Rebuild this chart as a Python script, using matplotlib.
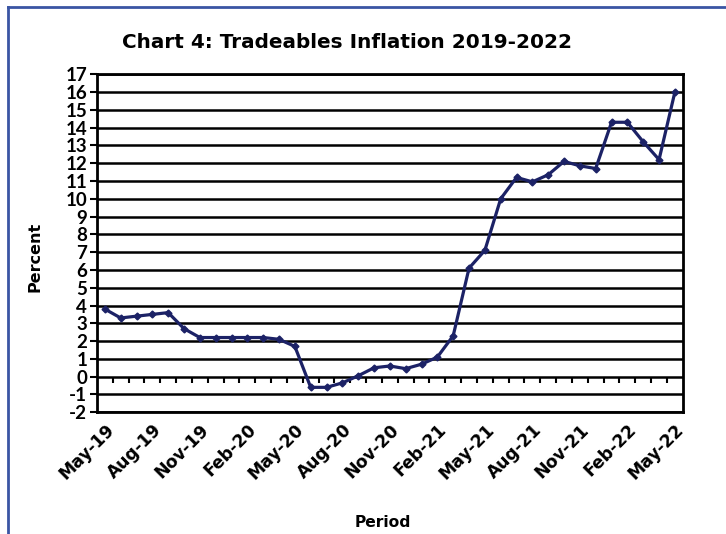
import numpy as np
import matplotlib
matplotlib.use("Agg")
import matplotlib.pyplot as plt
from matplotlib.lines import Line2D

plt.rcParams["font.family"] = ["DejaVu Sans"]
plt.rcParams["font.weight"] = "bold"

# monthly tradeables inflation, May-19 .. May-22 (percent)
months = ["May-19", "Jun-19", "Jul-19", "Aug-19", "Sep-19", "Oct-19", "Nov-19",
          "Dec-19", "Jan-20", "Feb-20", "Mar-20", "Apr-20", "May-20", "Jun-20",
          "Jul-20", "Aug-20", "Sep-20", "Oct-20", "Nov-20", "Dec-20", "Jan-21",
          "Feb-21", "Mar-21", "Apr-21", "May-21", "Jun-21", "Jul-21", "Aug-21",
          "Sep-21", "Oct-21", "Nov-21", "Dec-21", "Jan-22", "Feb-22", "Mar-22",
          "Apr-22", "May-22"]
inflation = [3.8, 3.3, 3.4, 3.5, 3.6, 2.7, 2.2, 2.2, 2.2, 2.2, 2.2, 2.1, 1.7,
             -0.6, -0.6, -0.35, 0.05, 0.5, 0.6, 0.45, 0.7, 1.1, 2.3, 6.1, 7.1,
             10.0, 11.2, 10.95, 11.35, 12.1, 11.85, 11.7, 14.3, 14.3, 13.2, 12.2,
             16.0]
y_ticks = list(range(-2, 18))

NAVY = "#1c2266"

fig = plt.figure(figsize=(7.26, 5.34), dpi=100)
ax = fig.add_axes([0.1335, 0.228, 0.807, 0.633])

x = np.arange(len(months))
ax.set_xlim(-0.5, len(months) - 0.5)
ax.set_ylim(y_ticks[0], y_ticks[-1])

# horizontal gridlines (Excel style, black)
for v in y_ticks:
    ax.axhline(v, color="black", lw=1.8, zorder=1)

# category-axis tick marks hanging off the zero line
ax.vlines(x[:-1] + 0.5, 0, -0.33, color="black", lw=1.5, zorder=2)

ax.plot(x, inflation, color=NAVY, lw=2.3, marker="D", ms=3.5, zorder=3)

ax.set_yticks(y_ticks)
ax.set_yticklabels([str(v) for v in y_ticks], fontsize=13.5, fontweight="bold",
                   family="Lato")
ax.tick_params(axis="y", length=5, width=1.5, pad=2)

lab_idx = x[::3]
ax.set_xticks(lab_idx)
ax.set_xticklabels([months[i] for i in lab_idx], rotation=45, ha="right",
                   rotation_mode="anchor", fontsize=12.3, fontweight="bold")
ax.tick_params(axis="x", length=0, pad=6)

for s in ax.spines.values():
    s.set_linewidth(2)
    s.set_color("black")

fig.text(0.048, 0.519, "Percent", rotation=90, ha="center", va="center",
         fontsize=11.5, fontweight="bold")
fig.text(0.527, 0.021, "Period", ha="center", va="center",
         fontsize=11.2, fontweight="bold")
fig.text(0.478, 0.921, "Chart 4: Tradeables Inflation 2019-2022",
         ha="center", va="center", fontsize=14.4, fontweight="bold")

# blue frame of the original chart object
frame_col = "#3a55a4"
fig.add_artist(Line2D([0.011, 0.011], [0.0, 0.987], transform=fig.transFigure,
                      color=frame_col, lw=2))
fig.add_artist(Line2D([0.011, 1.0], [0.987, 0.987], transform=fig.transFigure,
                      color=frame_col, lw=2))

fig.savefig("out.png", dpi=100, facecolor="white")
